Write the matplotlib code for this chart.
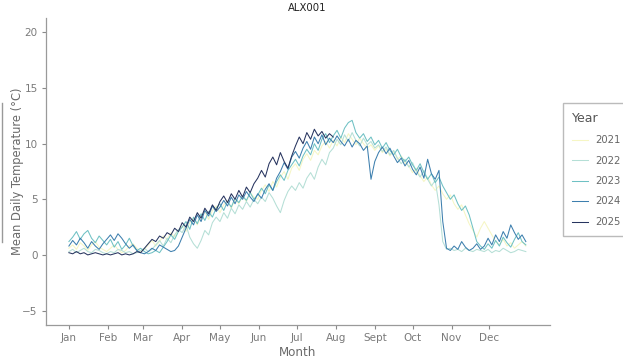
import numpy as np
import matplotlib
matplotlib.use("Agg")
import matplotlib.pyplot as plt
from matplotlib.lines import Line2D

days = np.arange(0, 365, 3)

y2021 = [0.6,0.9,0.5,1.1,0.8,0.4,0.9,1.2,0.7,0.5,
         0.3,0.6,0.9,0.5,0.2,0.4,0.8,1.0,0.6,0.3,
         0.5,0.9,1.3,0.8,1.2,1.7,1.4,2.0,1.6,2.2,
         2.6,2.1,2.9,3.3,2.7,3.5,3.9,3.2,4.0,4.4,
         3.8,4.5,4.9,4.2,5.0,4.6,5.3,4.8,5.6,5.2,
         5.0,5.8,6.3,5.7,6.6,6.1,7.0,7.5,6.8,7.8,
         8.2,7.6,8.6,9.1,8.5,9.4,9.0,9.8,10.2,9.6,
         10.3,9.8,10.6,10.1,10.9,10.4,9.9,10.5,10.0,9.6,
         9.9,9.4,9.8,9.2,9.5,8.9,9.3,8.6,8.9,8.3,
         8.0,7.4,7.8,7.1,6.6,7.0,6.3,5.8,6.2,5.5,
         5.0,5.4,4.6,4.1,4.5,3.6,2.8,2.2,1.6,2.4,
         3.0,2.4,1.8,1.2,0.9,1.4,0.8,1.1,0.6,0.9,
         1.2,0.8]
y2022 = [0.3,0.5,0.2,0.4,0.6,0.3,0.2,0.5,0.4,0.2,
         0.1,0.3,0.2,0.5,0.4,0.2,0.3,0.1,0.2,0.4,
         0.6,0.3,0.5,0.9,1.3,0.8,1.5,1.1,1.8,2.3,
         2.0,2.7,1.6,1.0,0.6,1.3,2.2,1.8,2.9,3.4,
         3.0,3.8,3.3,4.2,3.7,4.5,4.1,4.8,4.3,5.0,
         4.6,5.2,4.8,5.6,5.1,4.4,3.8,4.9,5.7,6.2,
         5.8,6.5,6.0,6.9,7.4,6.8,7.9,8.6,8.1,9.2,
         9.6,10.4,9.9,10.8,10.2,11.0,10.3,9.8,10.5,9.9,
         10.2,9.6,9.9,9.3,9.7,9.0,9.4,8.7,8.2,8.6,
         7.9,8.3,7.5,7.0,7.6,6.8,6.2,6.7,4.5,1.2,
         0.5,0.6,0.4,0.5,0.3,0.6,0.4,0.3,0.5,0.4,
         0.3,0.5,0.2,0.4,0.3,0.6,0.4,0.2,0.3,0.5,
         0.4,0.3]
y2023 = [1.2,1.6,2.1,1.4,1.9,2.2,1.5,1.1,1.7,1.3,
         0.9,1.4,0.7,1.2,0.5,0.9,1.5,0.8,0.4,0.6,
         0.3,0.1,0.2,0.4,0.2,0.7,1.2,1.8,1.4,2.1,
         2.5,3.0,2.3,3.4,2.8,3.7,3.1,3.9,3.4,4.2,
         4.6,4.0,4.8,4.3,5.1,4.7,5.3,4.9,5.6,5.0,
         5.4,6.0,5.5,6.3,5.8,6.6,7.2,6.7,7.6,8.1,
         8.6,8.0,8.9,9.5,9.0,10.0,9.4,10.4,10.9,10.1,
         10.7,11.2,10.5,11.4,11.9,12.1,11.0,10.5,10.9,10.2,
         10.6,9.9,10.3,9.6,10.1,9.4,9.0,9.5,8.8,8.4,
         8.8,8.1,7.6,8.2,7.4,6.8,7.3,6.5,7.0,6.2,
         5.6,5.0,5.4,4.6,4.0,4.4,3.6,2.4,1.2,0.8,
         0.5,1.0,0.6,1.3,0.8,1.6,1.1,0.7,1.4,2.0,
         1.2,0.9]
y2024 = [0.8,1.3,0.9,1.5,1.1,0.6,1.2,0.8,0.5,1.0,
         1.4,1.8,1.3,1.9,1.5,1.0,0.6,0.9,0.4,0.2,
         0.1,0.3,0.6,0.4,0.9,0.7,0.5,0.3,0.4,0.8,
         1.6,2.4,3.2,2.7,3.6,3.0,4.0,3.5,4.4,3.9,
         4.3,4.9,4.4,5.2,4.6,5.4,5.0,5.7,5.2,4.8,
         5.5,5.1,5.9,6.4,5.8,6.9,7.5,8.3,7.7,8.8,
         9.3,8.7,9.6,10.2,9.5,10.6,10.0,10.8,9.9,10.5,
         10.1,10.7,10.2,9.8,10.4,9.7,10.3,10.0,9.4,9.8,
         6.8,8.4,9.2,9.7,9.1,9.6,8.9,8.3,8.7,8.0,
         8.5,7.7,7.2,7.9,6.9,8.6,7.3,6.8,7.6,3.0,
         0.6,0.4,0.8,0.5,1.2,0.7,0.4,0.6,1.0,0.5,
         0.8,1.5,0.9,1.8,1.2,2.1,1.5,2.7,2.0,1.4,
         1.8,1.2]
y2025 = [0.2,0.1,0.3,0.1,0.2,0.0,0.1,0.2,0.1,0.0,
         0.1,0.0,0.1,0.2,0.0,0.1,0.0,0.1,0.3,0.2,
         0.6,1.0,1.4,1.2,1.7,1.5,2.0,1.8,2.4,2.1,
         2.9,2.5,3.4,3.0,3.8,3.3,4.2,3.7,4.5,4.0,
         4.8,5.3,4.7,5.5,5.0,5.8,5.2,6.1,5.6,6.4,
         6.9,7.6,7.0,8.2,8.8,8.1,9.2,8.4,7.8,8.9,
         9.8,10.6,10.0,11.0,10.4,11.3,10.7,11.1,10.5,10.9,
         10.6]

years = ["2021", "2022", "2023", "2024", "2025"]
series = [y2021, y2022, y2023, y2024, y2025]
colors = ["#f6f6c4", "#b5dfd6", "#6fc1c4", "#3d7fae", "#27345f"]

month_pos = [0, 31, 59, 90, 120, 151, 181, 212, 243, 273, 304, 334]
month_labels = ["Jan", "Feb", "Mar", "Apr", "May", "Jun", "Jul", "Aug",
                "Sept", "Oct", "Nov", "Dec"]

fig = plt.figure(figsize=(6.23, 3.6), dpi=100)
ax = fig.add_axes([46/623, 1-325/360, (550-46)/623, (325-18)/360])

for yr, vals, c in zip(years, series, colors):
    ax.plot(days[:len(vals)], vals, color=c, lw=0.75, label=yr)

ax.set_xlim(-18.2, 382.2)
ax.set_ylim(-6.3, 21.3)
ax.set_xticks(month_pos)
ax.set_xticklabels(month_labels)
ax.set_yticks([-5, 0, 5, 10, 15, 20])
for s in ["top", "right"]:
    ax.spines[s].set_visible(False)
for s in ["left", "bottom"]:
    ax.spines[s].set_color("#9a9a9a")
    ax.spines[s].set_linewidth(0.9)
ax.tick_params(colors="#8a8a8a", labelsize=7.5, length=3, width=0.8,
               labelcolor="#7a7a7a", pad=3)
ax.set_xlabel("Month", fontsize=8.6, color="#6a6a6a", labelpad=2)
ax.set_ylabel("Mean Daily Temperature (°C)", fontsize=8.3, color="#6a6a6a")
ax.yaxis.set_label_coords(18/623, 1-171.5/360, transform=fig.transFigure)
ax.yaxis.label.set_verticalalignment("center")
fig.text(307/623, 1-8/360, "ALX001", fontsize=7.3, color="#222222",
         ha="center", va="center")

leg = ax.legend(title="Year", loc="upper left",
                bbox_to_anchor=(563/623, 1-103/360), bbox_transform=fig.transFigure,
                borderaxespad=0, frameon=True, fontsize=7.2, title_fontsize=9,
                handlelength=1.6, labelspacing=1.05, borderpad=0.85,
                handletextpad=0.8, fancybox=False)
leg.get_frame().set_edgecolor("#aaaaaa")
leg.get_frame().set_linewidth(1.0)
leg._legend_box.align = "left"
for t in leg.get_texts():
    t.set_color("#666666")
leg.get_title().set_color("#555555")

fig.add_artist(Line2D([1.5/623, 1.5/623], [1-103/360, 1-242/360],
                      transform=fig.transFigure, color="#999999", lw=1))

fig.savefig("out.png", dpi=100)
